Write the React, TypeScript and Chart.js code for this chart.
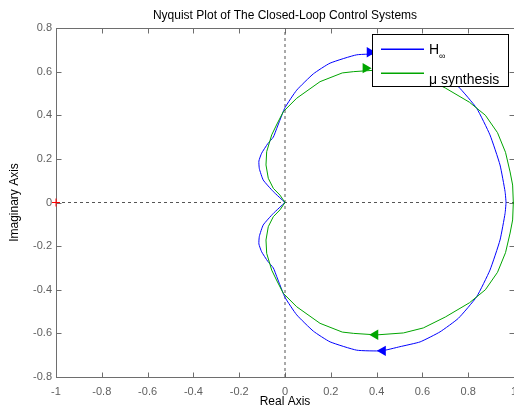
import { useEffect, useRef } from "react";
import { Chart, registerables } from "chart.js";

Chart.register(...registerables);

// Axis ticks
const xTicks = [-1, -0.8, -0.6, -0.4, -0.2, 0, 0.2, 0.4, 0.6, 0.8, 1];
const yTicks = [-0.8, -0.6, -0.4, -0.2, 0, 0.2, 0.4, 0.6, 0.8];

// H-infinity closed loop, positive-frequency branch (ω = 0 → ∞)
const hinfRe = [0.965, 0.961, 0.939, 0.895, 0.837, 0.757, 0.677, 0.59, 0.502, 0.422, 0.313, 0.197, 0.124, 0.051, 0.0, -0.025, -0.036, -0.051, -0.075, -0.102, -0.114, -0.112, -0.095, -0.051, 0];
const hinfIm = [0, -0.05, -0.172, -0.31, -0.432, -0.531, -0.593, -0.639, -0.661, -0.68, -0.677, -0.639, -0.59, -0.515, -0.435, -0.37, -0.34, -0.3, -0.27, -0.226, -0.19, -0.155, -0.103, -0.05, 0];

// μ-synthesis closed loop, positive-frequency branch (ω = 0 → ∞)
const muRe = [0.997, 0.994, 0.983, 0.963, 0.928, 0.875, 0.805, 0.7, 0.604, 0.517, 0.4, 0.3, 0.25, 0.153, 0.051, -0.007, -0.035, -0.058, -0.08, -0.083, -0.073, -0.051, -0.022, 0];
const muIm = [0, -0.08, -0.14, -0.23, -0.32, -0.4, -0.46, -0.525, -0.575, -0.598, -0.607, -0.6, -0.594, -0.554, -0.478, -0.417, -0.36, -0.31, -0.233, -0.172, -0.111, -0.065, -0.034, 0];

// Direction arrows: [upper branch, lower branch]
const hinfArrowRe = [0.37, 0.427];
const hinfArrowIm = [0.689, -0.68];
const muArrowRe = [0.352, 0.394];
const muArrowIm = [0.616, -0.606];
const arrowRotation = [90, -90];

// Critical point -1 + j0
const criticalRe = [-1];
const criticalIm = [0];

const BLUE = "#0000ff";
const GREEN = "#00a500";
const FONT = "'Liberation Sans', Arial, Helvetica, sans-serif";

// Full Nyquist contour: conjugate branch (ω from -∞ to 0) followed by the positive branch
function nyquist(re: number[], im: number[]) {
  const neg = re.map((r, i) => ({ x: r, y: -im[i] })).reverse();
  const pos = re.map((r, i) => ({ x: r, y: im[i] })).slice(1);
  return [...neg, ...pos];
}

const framePlugin = {
  id: "matlabFrame",
  beforeDatasetsDraw(chart: any) {
    const { ctx, chartArea: a, scales } = chart;
    const L = Math.round(a.left) + 0.5;
    const R = Math.round(a.right) + 0.5;
    const T = Math.round(a.top) + 0.5;
    const B = Math.round(a.bottom) + 0.5;
    ctx.save();
    ctx.strokeStyle = "#6e6e6e";
    ctx.lineWidth = 1;
    ctx.strokeRect(L, T, R - L, B - T);
    ctx.beginPath();
    const len = 5;
    for (const v of xTicks) {
      const px = Math.round(scales.x.getPixelForValue(v)) + 0.5;
      ctx.moveTo(px, B);
      ctx.lineTo(px, B - len);
      ctx.moveTo(px, T);
      ctx.lineTo(px, T + len);
    }
    for (const v of yTicks) {
      const py = Math.round(scales.y.getPixelForValue(v)) + 0.5;
      ctx.moveTo(L, py);
      ctx.lineTo(L + len, py);
      ctx.moveTo(R, py);
      ctx.lineTo(R - len, py);
    }
    ctx.stroke();
    ctx.restore();
  },
  afterDraw(chart: any) {
    const { ctx, chartArea: a } = chart;
    const cx = (a.left + a.right) / 2;
    ctx.save();
    ctx.setLineDash([]);
    ctx.fillStyle = "#000";
    ctx.textAlign = "center";
    ctx.textBaseline = "alphabetic";
    ctx.font = `12px ${FONT}`;
    ctx.fillText("Nyquist Plot of The Closed-Loop Control Systems", cx, 18.5);
    ctx.fillText("Real Axis", cx, 405);
    ctx.save();
    ctx.translate(18, (a.top + a.bottom) / 2);
    ctx.rotate(-Math.PI / 2);
    ctx.fillText("Imaginary Axis", 0, 0);
    ctx.restore();

    // Legend box
    ctx.fillStyle = "#fff";
    ctx.fillRect(372, 34, 137, 53);
    ctx.fillStyle = "#000";
    ctx.fillRect(372, 34, 137, 1);
    ctx.fillRect(372, 86, 137, 1);
    ctx.fillRect(372, 34, 1, 53);
    ctx.fillRect(508, 34, 1, 53);
    // Legend samples
    ctx.lineWidth = 1.4;
    ctx.strokeStyle = BLUE;
    ctx.beginPath();
    ctx.moveTo(381, 49.3);
    ctx.lineTo(424, 49.3);
    ctx.stroke();
    ctx.strokeStyle = GREEN;
    ctx.beginPath();
    ctx.moveTo(381, 73.3);
    ctx.lineTo(424, 73.3);
    ctx.stroke();
    // Legend labels
    ctx.fillStyle = "#000";
    ctx.textAlign = "left";
    ctx.font = `14px ${FONT}`;
    ctx.fillText("H", 429, 53.5);
    const hw = ctx.measureText("H").width;
    ctx.font = `9px ${FONT}`;
    ctx.fillText("\u221e", 429 + hw, 59);
    ctx.font = `14px ${FONT}`;
    ctx.fillText("\u03bc synthesis", 429, 83.5);
    ctx.restore();
  },
};

export default function App() {
  const ref = useRef<HTMLCanvasElement | null>(null);

  useEffect(() => {
    if (!ref.current) return;
    const tickFont = { family: FONT, size: 11 };
    const arrowSet = (re: number[], im: number[], color: string) => ({
      data: re.map((r, i) => ({ x: r, y: im[i] })),
      showLine: false,
      pointStyle: "triangle",
      rotation: arrowRotation,
      pointRadius: 6,
      backgroundColor: color,
      borderColor: color,
      borderWidth: 0,
    });
    const chart = new Chart(ref.current, {
      type: "scatter",
      data: {
        datasets: [
          arrowSet(hinfArrowRe, hinfArrowIm, BLUE) as any,
          arrowSet(muArrowRe, muArrowIm, GREEN) as any,
          {
            data: criticalRe.map((r, i) => ({ x: r, y: criticalIm[i] })),
            showLine: false,
            pointStyle: "cross",
            pointRadius: 4,
            borderColor: "#ff0000",
            borderWidth: 1,
            clip: false,
          } as any,
          {
            data: nyquist(muRe, muIm),
            showLine: true,
            borderColor: GREEN,
            borderWidth: 1,
            pointRadius: 0,
            tension: 0,
          },
          {
            data: nyquist(hinfRe, hinfIm),
            showLine: true,
            borderColor: BLUE,
            borderWidth: 1,
            pointRadius: 0,
            tension: 0.15,
          },
          {
            data: [
              { x: xTicks[0], y: 0 },
              { x: xTicks[xTicks.length - 1], y: 0 },
            ],
            showLine: true,
            borderColor: "#555",
            borderWidth: 1,
            borderDash: [3, 3],
            pointRadius: 0,
          },
          {
            data: [
              { x: 0, y: yTicks[0] },
              { x: 0, y: yTicks[yTicks.length - 1] },
            ],
            showLine: true,
            borderColor: "#555",
            borderWidth: 1,
            borderDash: [3, 3],
            pointRadius: 0,
          },
        ],
      },
      options: {
        responsive: false,
        animation: false,
        events: [],
        layout: { padding: { top: 28, right: 26, left: 0, bottom: 0 } },
        plugins: {
          legend: { display: false },
          tooltip: { enabled: false },
          title: { display: false },
        },
        scales: {
          x: {
            type: "linear",
            min: xTicks[0],
            max: xTicks[xTicks.length - 1],
            afterBuildTicks: (s: any) => {
              s.ticks = xTicks.map((v) => ({ value: v }));
            },
            afterFit: (s: any) => {
              s.height = 40;
            },
            grid: { display: false, drawTicks: false },
            border: { display: false },
            ticks: {
              padding: 8,
              color: "#606060",
              font: tickFont,
              maxRotation: 0,
              autoSkip: false,
              callback: (v: any) => String(v),
            },
          },
          y: {
            type: "linear",
            min: yTicks[0],
            max: yTicks[yTicks.length - 1],
            afterBuildTicks: (s: any) => {
              s.ticks = yTicks.map((v) => ({ value: v }));
            },
            afterFit: (s: any) => {
              s.width = 56;
            },
            grid: { display: false, drawTicks: false },
            border: { display: false },
            ticks: {
              padding: 4,
              color: "#606060",
              font: tickFont,
              autoSkip: false,
              callback: (v: any) => String(v),
            },
          },
        },
      },
      plugins: [framePlugin],
    });
    return () => chart.destroy();
  }, []);

  return (
    <div
      style={{
        position: "fixed",
        left: 0,
        top: 0,
        width: 514,
        height: 417,
        overflow: "hidden",
        background: "#fff",
      }}
    >
      <canvas ref={ref} width={540} height={417} style={{ display: "block" }} />
    </div>
  );
}
